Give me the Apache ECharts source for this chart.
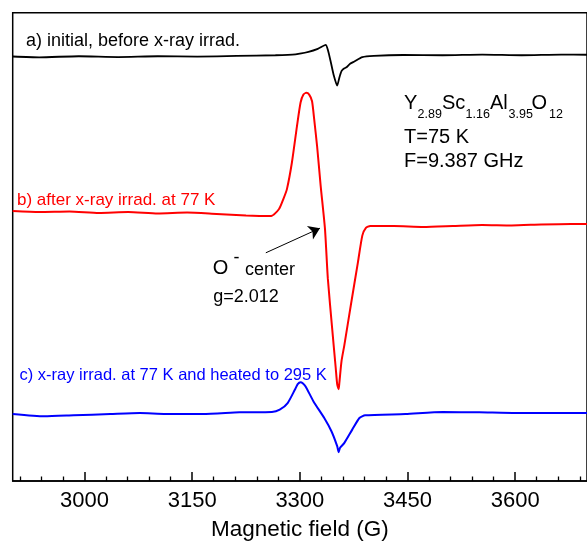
<!DOCTYPE html>
<html>
<head>
<meta charset="utf-8">
<script src="https://cdn.jsdelivr.net/npm/echarts@6/dist/echarts.min.js"></script>
<style>
html,body{margin:0;padding:0;background:#fff;}
#chart{width:587px;height:546px;}
</style>
</head>
<body>
<div id="chart"></div>
<script>
// ---- data (Magnetic field in G, EPR signal in arbitrary units incl. vertical offset) ----
const fieldA = [2900, 2937, 2992, 3047, 3102, 3157, 3212, 3266, 3294, 3312, 3325, 3336, 3339, 3343, 3347, 3352, 3355, 3358, 3361, 3365, 3370, 3376, 3387, 3403, 3444, 3499, 3554, 3609, 3664, 3700];
const sigA   = [90.65, 90.48, 90.70, 90.53, 90.70, 90.63, 90.76, 90.91, 91.12, 91.65, 92.29, 93.14, 92.08, 89.53, 86.76, 84.43, 86.13, 87.51, 88.04, 88.36, 89.10, 89.59, 90.53, 90.80, 90.97, 90.91, 91.06, 90.91, 91.06, 91.02];

const fieldB = [2900, 2937, 2979, 3020, 3061, 3102, 3143, 3184, 3225, 3260, 3271, 3277, 3282, 3289, 3296, 3301, 3305, 3309, 3313, 3317, 3320, 3324, 3329, 3335, 3339, 3345, 3350, 3352, 3354, 3355, 3358, 3362, 3371, 3381, 3387, 3392, 3398, 3431, 3472, 3513, 3554, 3595, 3636, 3678, 3700];
const sigB   = [57.65, 57.44, 57.55, 57.23, 57.44, 57.12, 57.33, 57.01, 56.70, 56.59, 58.08, 60.20, 62.33, 68.06, 75.78, 80.81, 82.51, 82.88, 82.51, 81.09, 77.20, 71.53, 63.03, 53.83, 43.20, 32.58, 24.08, 20.68, 19.61, 20.89, 25.56, 29.03, 37.53, 46.81, 52.40, 54.04, 54.46, 54.46, 54.25, 54.46, 54.68, 54.57, 54.78, 54.89, 54.89];

const fieldC = [2900, 2944, 2985, 3036, 3077, 3113, 3165, 3216, 3261, 3272, 3283, 3293, 3297, 3301, 3304, 3308, 3319, 3334, 3344, 3352, 3354, 3356, 3362, 3373, 3383, 3391, 3447, 3499, 3550, 3601, 3653, 3700];
const sigC   = [14.30, 13.81, 14.03, 14.30, 14.51, 14.30, 14.30, 14.66, 14.73, 15.22, 16.64, 19.47, 20.68, 21.10, 20.89, 20.19, 17.00, 13.45, 10.63, 7.44, 6.16, 7.08, 8.14, 10.97, 13.45, 14.03, 14.30, 14.73, 14.66, 14.51, 14.51, 14.51];

const majorTicks = [3000, 3150, 3300, 3450, 3600];
const arrowFrom = [3252.6, 48.73];
const arrowTo   = [3328.0, 53.98];

const labelA = 'a) initial, before x-ray irrad.';
const labelB = 'b) after x-ray irrad. at 77 K';
const labelC = 'c) x-ray irrad. at 77 K and heated to 295 K';

// ---- build ----
const zip = (xs, ys) => xs.map((x, i) => [x, ys[i]]);
const minorTicks = [];
for (let v = 2910; v < 3700; v += 30) if (majorTicks.indexOf(v) < 0) minorTicks.push(v);

const FF = '"Liberation Sans", Arial, Helvetica, sans-serif';
function txt(x, y, text, size, color) {
  return {
    type: 'text', x: x, y: y, silent: true,
    style: { text: text, font: size + 'px ' + FF, fill: color || '#000',
             align: 'left', verticalAlign: 'middle', textAlign: 'left', textVerticalAlign: 'middle' }
  };
}

const chart = echarts.init(document.getElementById('chart'), null, { renderer: 'canvas' });
chart.setOption({
  animation: false,
  backgroundColor: '#fff',
  grid: { left: 12.7, top: 12.7, width: 583.8, height: 470.6, show: true, borderColor: '#000', borderWidth: 1.5, containLabel: false },
  xAxis: [{
    type: 'value', min: 2900, max: 3700, position: 'bottom',
    name: 'Magnetic field (G)', nameLocation: 'middle', nameGap: 37,
    nameTextStyle: { fontFamily: FF, fontSize: 22.5, color: '#000' },
    axisLine: { show: true, lineStyle: { color: '#000', width: 1.5 } },
    axisTick: { show: true, inside: true, length: 9, customValues: majorTicks, lineStyle: { color: '#000', width: 1.5 } },
    axisLabel: { show: true, customValues: majorTicks, margin: 9, fontFamily: FF, fontSize: 22, color: '#000',
                 formatter: function (v) { return String(v); } },
    splitLine: { show: false }
  }, {
    type: 'value', min: 2900, max: 3700, position: 'bottom', gridIndex: 0,
    axisLine: { show: false },
    axisTick: { show: true, inside: true, length: 4.5, customValues: minorTicks, lineStyle: { color: '#000', width: 1.3 } },
    axisLabel: { show: false, customValues: minorTicks },
    splitLine: { show: false }
  }],
  yAxis: { type: 'value', min: 0, max: 100, show: false, splitLine: { show: false } },
  series: [
    { type: 'line', name: 'a', data: zip(fieldA, sigA), showSymbol: false, symbol: 'none', smooth: 0.2, lineStyle: { color: '#000', width: 1.8 }, itemStyle: { color: '#000' } },
    { type: 'line', name: 'b', data: zip(fieldB, sigB), showSymbol: false, symbol: 'none', smooth: 0.2, lineStyle: { color: '#ff0000', width: 2 }, itemStyle: { color: '#ff0000' },
      markLine: { silent: true, symbol: ['none', 'arrow'], symbolSize: 11, label: { show: false },
        lineStyle: { color: '#000', width: 1, type: 'solid' },
        data: [[{ coord: arrowFrom, symbol: 'none' }, { coord: arrowTo, symbol: 'arrow' }]] } },
    { type: 'line', name: 'c', data: zip(fieldC, sigC), showSymbol: false, symbol: 'none', smooth: 0.2, lineStyle: { color: '#0000ff', width: 2 }, itemStyle: { color: '#0000ff' } }
  ],
  graphic: [
    txt(26, 41.5, labelA, 18, '#000'),
    txt(17, 200, labelB, 17, '#ff0000'),
    txt(19.5, 375, labelC, 16.5, '#0000ff'),
    txt(404, 103, 'Y', 20), txt(417.5, 115, '2.89', 12.5),
    txt(442, 103, 'Sc', 20), txt(465.5, 115, '1.16', 12.5),
    txt(490, 103, 'Al', 20), txt(508.5, 115, '3.95', 12.5),
    txt(531.5, 103, 'O', 20), txt(549, 115, '12', 12.5),
    txt(404, 137, 'T=75 K', 20),
    txt(404, 161.3, 'F=9.387 GHz', 20),
    txt(212.7, 268.3, 'O', 20),
    txt(233.5, 258, '-', 18),
    txt(245, 269.8, 'center', 18),
    txt(213.3, 296.9, 'g=2.012', 18)
  ]
});
</script>
</body>
</html>
